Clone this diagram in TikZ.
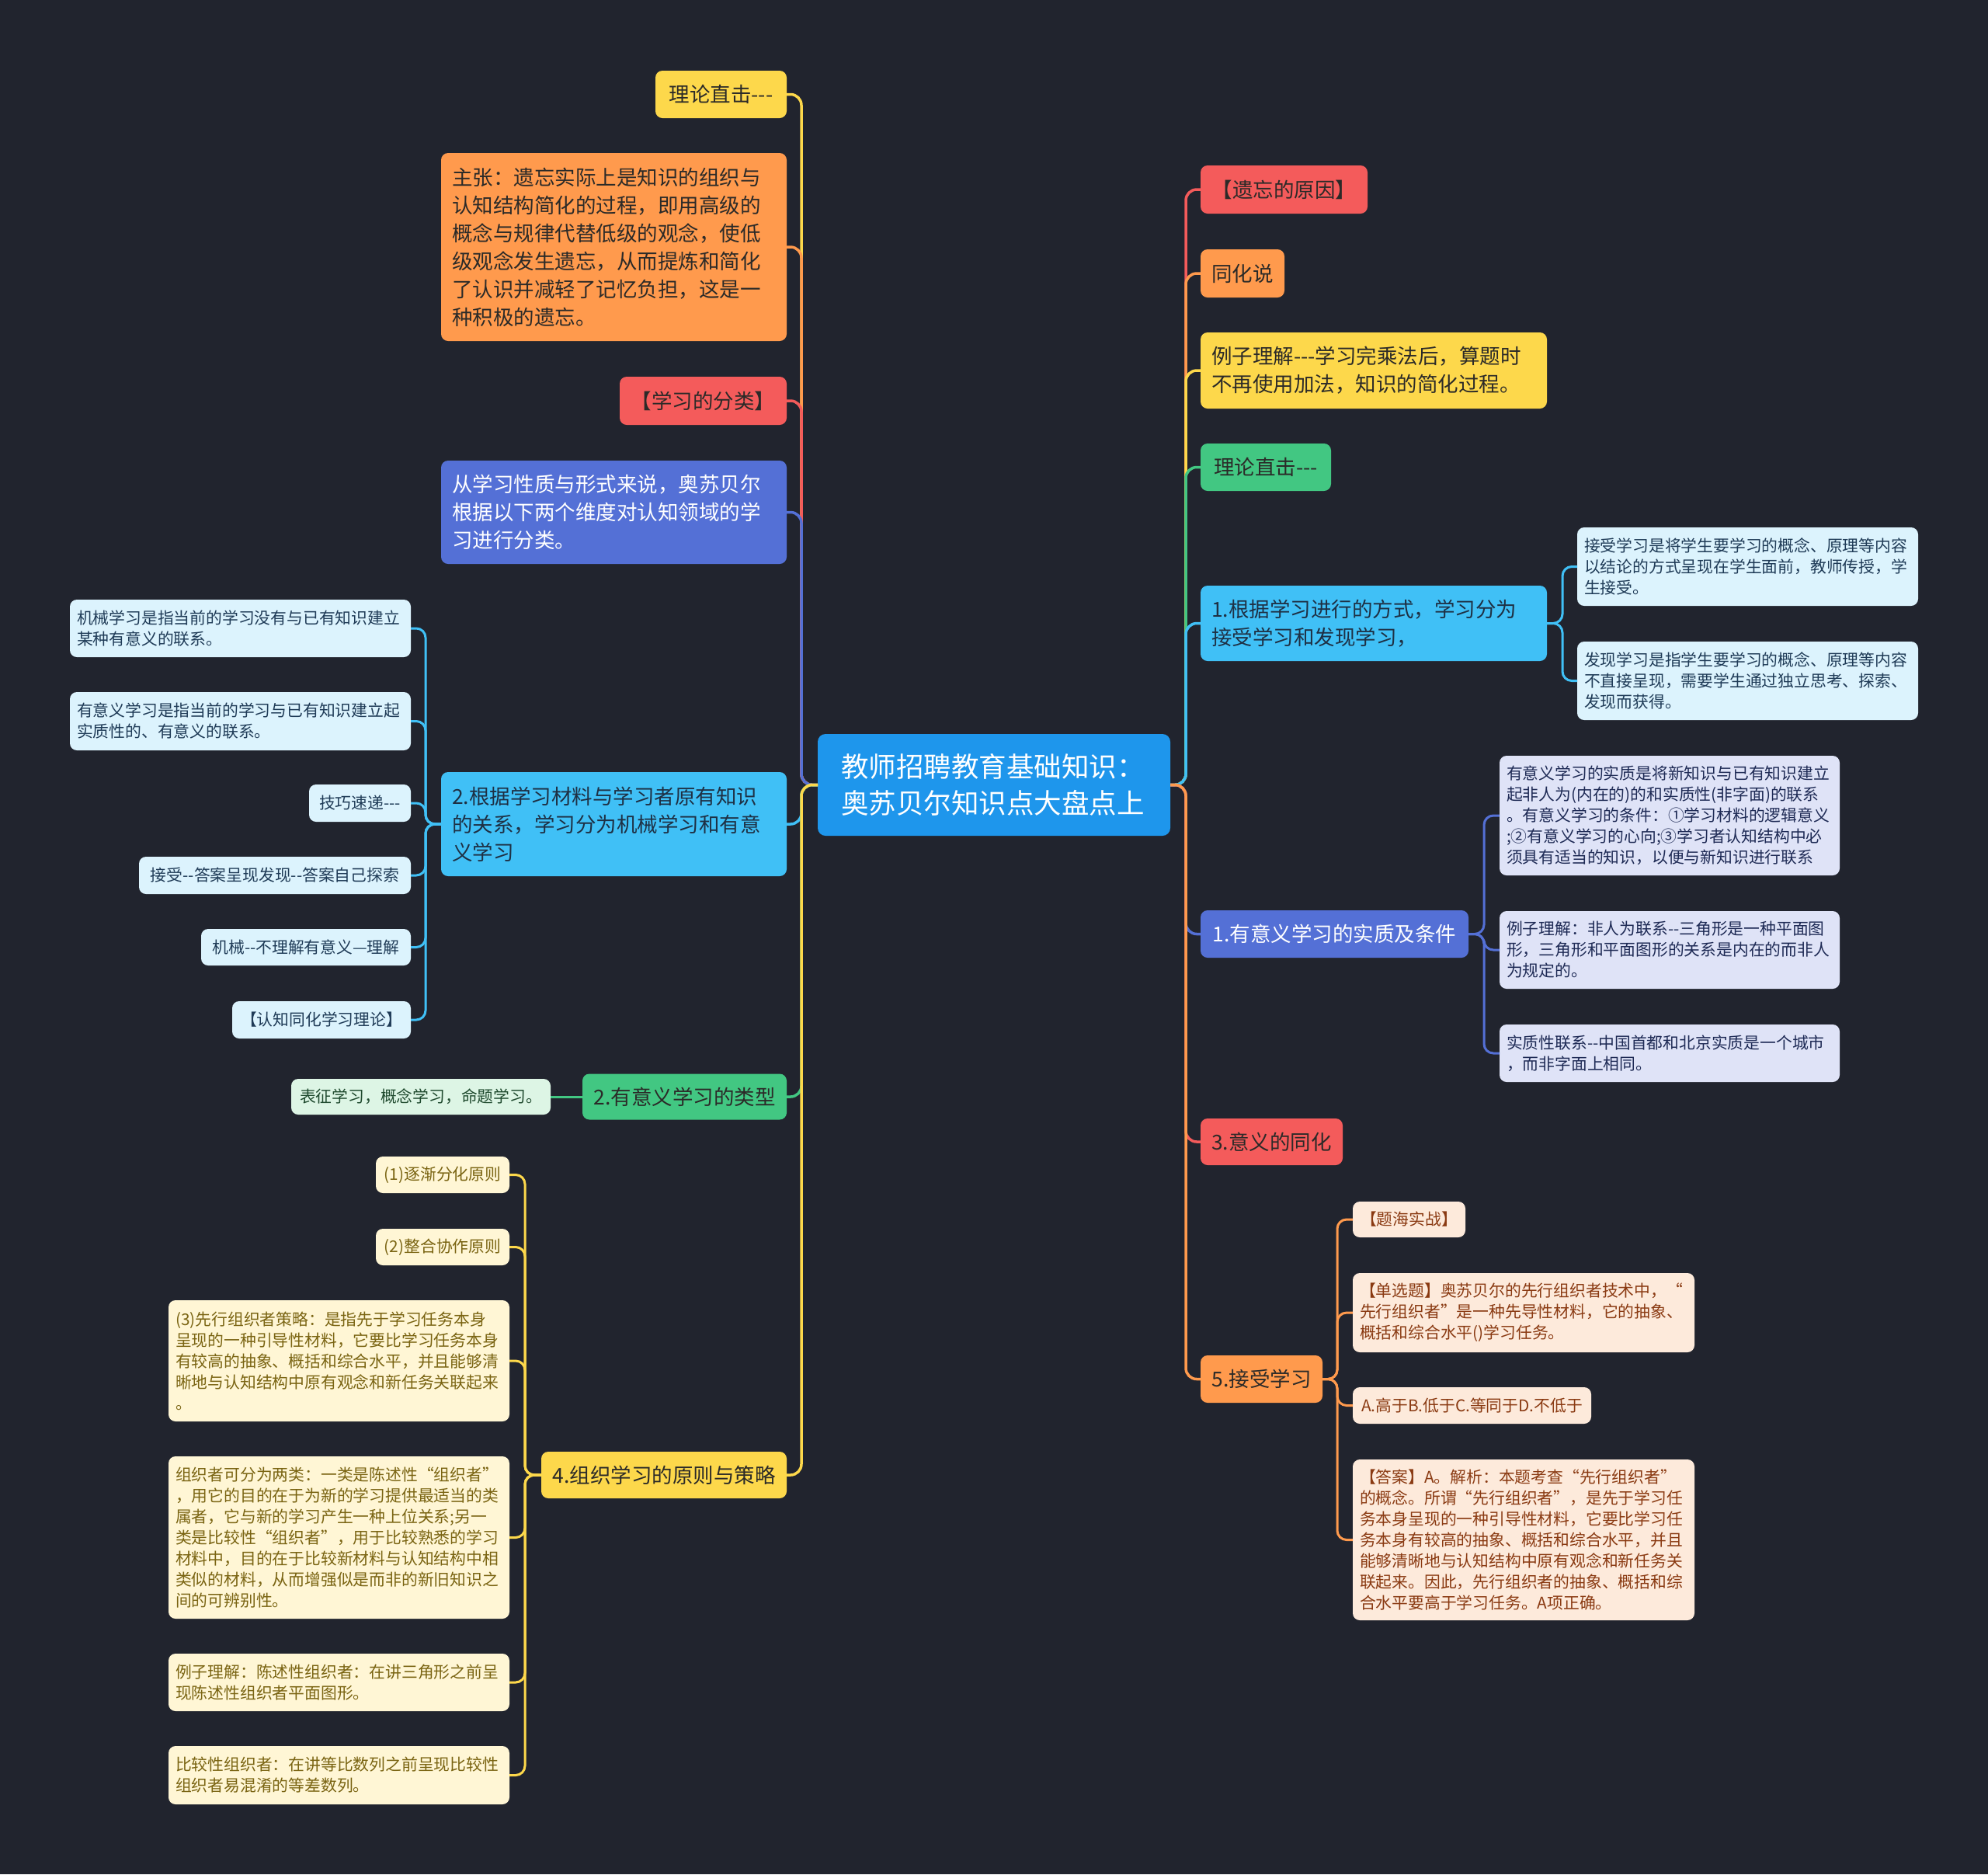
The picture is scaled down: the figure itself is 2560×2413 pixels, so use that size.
\documentclass[tikz,border=0pt]{standalone}
\usepackage{fontspec}
\usepackage{xcolor}
\usepackage{tikz}
\usetikzlibrary{positioning}
\newfontfamily\zhfont{Noto Sans CJK SC}

\definecolor{cBg}{HTML}{21242E}
\definecolor{cRoot}{HTML}{1E96EC}
\definecolor{cYellow}{HTML}{FDD84B}
\definecolor{cOrange}{HTML}{FF9A4D}
\definecolor{cRed}{HTML}{F45B5B}
\definecolor{cIndigo}{HTML}{5470D6}
\definecolor{cSky}{HTML}{40C0F6}
\definecolor{cGreen}{HTML}{42C782}
\definecolor{cInk}{HTML}{2B2A28}
\definecolor{cSkyInk}{HTML}{1E3044}
\definecolor{cSkyLeaf}{HTML}{DCF3FD}
\definecolor{cSkyLeafInk}{HTML}{1F3B57}
\definecolor{cGreenLeaf}{HTML}{DDF5E5}
\definecolor{cGreenLeafInk}{HTML}{1F4A2E}
\definecolor{cCream}{HTML}{FFF6D5}
\definecolor{cCreamInk}{HTML}{7A6412}
\definecolor{cLavender}{HTML}{DFE3F7}
\definecolor{cLavenderInk}{HTML}{1E2A55}
\definecolor{cPeach}{HTML}{FDEADB}
\definecolor{cPeachInk}{HTML}{8A3A12}

\begin{document}
\begin{tikzpicture}[
    x=1pt, y=-1pt,
    root/.style={fill=cRoot, text=white, rounded corners=10pt, outer sep=0pt,
                 font=\zhfont\fontsize{35.5}{47}\selectfont, inner xsep=30pt, inner ysep=6pt,
                 align=left},
    topic/.style={rounded corners=9pt, outer sep=0pt, text=cInk, align=left,
                  font=\zhfont\fontsize{26.5}{36}\selectfont, inner xsep=14pt, inner ysep=6pt},
    leaf/.style={rounded corners=9pt, outer sep=0pt, align=left,
                 font=\zhfont\fontsize{20.8}{27}\selectfont, inner xsep=9pt, inner ysep=5pt},
    skyleaf/.style={leaf, fill=cSkyLeaf, text=cSkyLeafInk},
    greenleaf/.style={leaf, fill=cGreenLeaf, text=cGreenLeafInk},
    creamleaf/.style={leaf, fill=cCream, text=cCreamInk},
    lavleaf/.style={leaf, fill=cLavender, text=cLavenderInk},
    peachleaf/.style={leaf, fill=cPeach, text=cPeachInk},
    link/.style={line width=3.5pt, rounded corners=14pt},
    sublink/.style={line width=3pt, rounded corners=12pt},
  ]
  \useasboundingbox (0,0) rectangle (2560,2413);
  \fill[cBg] (0,0) rectangle (2560,2413);

  % Root
  \node[root, text width=394pt, minimum height=131pt] (root) at (1280,1010.5)
    {教师招聘教育基础知识：\\奥苏贝尔知识点大盘点上};

  % Left topics
  \node[topic, fill=cYellow, anchor=east, minimum width=169pt, minimum height=61pt] (ll1) at (1013,121.5) {理论直击---};
  \node[topic, fill=cOrange, anchor=east, text width=417pt, minimum height=242pt] (ll2) at (1013,318)
    {主张：遗忘实际上是知识的组织与\\认知结构简化的过程，即用高级的\\概念与规律代替低级的观念，使低\\级观念发生遗忘，从而提炼和简化\\了认识并减轻了记忆负担，这是一\\种积极的遗忘。};
  \node[topic, fill=cRed, anchor=east, minimum width=215pt, minimum height=62pt] (ll3) at (1013,516) {【学习的分类】};
  \node[topic, fill=cIndigo, text=white, anchor=east, text width=417pt, minimum height=133pt] (ll4) at (1013,659.5)
    {从学习性质与形式来说，奥苏贝尔\\根据以下两个维度对认知领域的学\\习进行分类。};
  \node[topic, fill=cSky, text=cSkyInk, anchor=east, text width=417pt, minimum height=134pt] (ll5) at (1013,1061)
    {2.根据学习材料与学习者原有知识\\的关系，学习分为机械学习和有意\\义学习};
  \node[topic, fill=cGreen, anchor=east, minimum width=263pt, minimum height=59pt] (ll6) at (1013,1412) {2.有意义学习的类型};
  \node[topic, fill=cYellow, anchor=east, minimum width=316pt, minimum height=60pt] (ll7) at (1013,1899) {4.组织学习的原则与策略};

  % Leaves of ll5
  \node[skyleaf, anchor=east, text width=421pt, minimum height=74pt] (a1) at (529,809)
    {机械学习是指当前的学习没有与已有知识建立\\某种有意义的联系。};
  \node[skyleaf, anchor=east, text width=421pt, minimum height=75pt] (a2) at (529,928.5)
    {有意义学习是指当前的学习与已有知识建立起\\实质性的、有意义的联系。};
  \node[skyleaf, anchor=east, minimum width=131pt, minimum height=48pt] (a3) at (529,1034) {技巧速递---};
  \node[skyleaf, anchor=east, minimum width=350pt, minimum height=48pt] (a4) at (529,1127) {接受--答案呈现发现--答案自己探索};
  \node[skyleaf, anchor=east, minimum width=270pt, minimum height=47pt] (a5) at (529,1219.5) {机械--不理解有意义—理解};
  \node[skyleaf, anchor=east, minimum width=230pt, minimum height=48pt] (a6) at (529,1313) {【认知同化学习理论】};

  % Leaf of ll6
  \node[greenleaf, anchor=east, minimum width=334pt, minimum height=46pt] (b1) at (709,1412) {表征学习，概念学习，命题学习。};

  % Leaves of ll7
  \node[creamleaf, anchor=east, minimum width=172pt, minimum height=47pt] (c1) at (656,1512.5) {(1)逐渐分化原则};
  \node[creamleaf, anchor=east, minimum width=172pt, minimum height=47pt] (c2) at (656,1605.5) {(2)整合协作原则};
  \node[creamleaf, anchor=east, text width=421pt, minimum height=156pt] (c3) at (656,1752)
    {(3)先行组织者策略：是指先于学习任务本身\\呈现的一种引导性材料，它要比学习任务本身\\有较高的抽象、概括和综合水平，并且能够清\\晰地与认知结构中原有观念和新任务关联起来\\。};
  \node[creamleaf, anchor=east, text width=421pt, minimum height=209pt] (c4) at (656,1979.5)
    {组织者可分为两类：一类是陈述性“组织者”\\，用它的目的在于为新的学习提供最适当的类\\属者，它与新的学习产生一种上位关系;另一\\类是比较性“组织者”，用于比较熟悉的学习\\材料中，目的在于比较新材料与认知结构中相\\类似的材料，从而增强似是而非的新旧知识之\\间的可辨别性。};
  \node[creamleaf, anchor=east, text width=421pt, minimum height=74pt] (c5) at (656,2166)
    {例子理解：陈述性组织者：在讲三角形之前呈\\现陈述性组织者平面图形。};
  \node[creamleaf, anchor=east, text width=421pt, minimum height=75pt] (c6) at (656,2285.5)
    {比较性组织者：在讲等比数列之前呈现比较性\\组织者易混淆的等差数列。};

  % Right topics
  \node[topic, fill=cRed, anchor=west, minimum width=215pt, minimum height=62pt] (rl1) at (1546,244) {【遗忘的原因】};
  \node[topic, fill=cOrange, anchor=west, minimum width=108pt, minimum height=62pt] (rl2) at (1546,352) {同化说};
  \node[topic, fill=cYellow, anchor=west, text width=418pt, minimum height=98pt] (rl3) at (1546,477)
    {例子理解---学习完乘法后，算题时\\不再使用加法，知识的简化过程。};
  \node[topic, fill=cGreen, anchor=west, minimum width=168pt, minimum height=61pt] (rl4) at (1546,601.5) {理论直击---};
  \node[topic, fill=cSky, text=cSkyInk, anchor=west, text width=418pt, minimum height=97pt] (rl5) at (1546,802.5)
    {1.根据学习进行的方式，学习分为\\接受学习和发现学习，};
  \node[topic, fill=cIndigo, text=white, anchor=west, minimum width=345pt, minimum height=61pt] (rl6) at (1546,1202.5) {1.有意义学习的实质及条件};
  \node[topic, fill=cRed, anchor=west, minimum width=183pt, minimum height=60pt] (rl7) at (1546,1470) {3.意义的同化};
  \node[topic, fill=cOrange, anchor=west, minimum width=157pt, minimum height=61pt] (rl8) at (1546,1775.5) {5.接受学习};

  % Leaves of rl5
  \node[skyleaf, anchor=west, text width=421pt, minimum height=101pt] (d1) at (2031,729.5)
    {接受学习是将学生要学习的概念、原理等内容\\以结论的方式呈现在学生面前，教师传授，学\\生接受。};
  \node[skyleaf, anchor=west, text width=421pt, minimum height=101pt] (d2) at (2031,876.5)
    {发现学习是指学生要学习的概念、原理等内容\\不直接呈现，需要学生通过独立思考、探索、\\发现而获得。};

  % Leaves of rl6
  \node[lavleaf, anchor=west, text width=420pt, minimum height=154pt] (e1) at (1931,1050)
    {有意义学习的实质是将新知识与已有知识建立\\起非人为(内在的)的和实质性(非字面)的联系\\。有意义学习的条件：①学习材料的逻辑意义\\;②有意义学习的心向;③学习者认知结构中必\\须具有适当的知识，以便与新知识进行联系};
  \node[lavleaf, anchor=west, text width=420pt, minimum height=100pt] (e2) at (1931,1223)
    {例子理解：非人为联系--三角形是一种平面图\\形，三角形和平面图形的关系是内在的而非人\\为规定的。};
  \node[lavleaf, anchor=west, text width=420pt, minimum height=74pt] (e3) at (1931,1356)
    {实质性联系--中国首都和北京实质是一个城市\\，而非字面上相同。};

  % Leaves of rl8
  \node[peachleaf, anchor=west, minimum width=145pt, minimum height=46pt] (f1) at (1742,1570) {【题海实战】};
  \node[peachleaf, anchor=west, text width=422pt, minimum height=102pt] (f2) at (1742,1690)
    {【单选题】奥苏贝尔的先行组织者技术中，“\\先行组织者”是一种先导性材料，它的抽象、\\概括和综合水平()学习任务。};
  \node[peachleaf, anchor=west, minimum width=307pt, minimum height=47pt] (f3) at (1742,1809.5) {A.高于B.低于C.等同于D.不低于};
  \node[peachleaf, anchor=west, text width=422pt, minimum height=207pt] (f4) at (1742,1982.5)
    {【答案】A。解析：本题考查“先行组织者”\\的概念。所谓“先行组织者”，是先于学习任\\务本身呈现的一种引导性材料，它要比学习任\\务本身有较高的抽象、概括和综合水平，并且\\能够清晰地与认知结构中原有观念和新任务关\\联起来。因此，先行组织者的抽象、概括和综\\合水平要高于学习任务。A项正确。};

  % Root to left topics
  \draw[link, cYellow] (root.west) -- ++(-21,0) |- (ll1.east);
  \draw[link, cOrange] (root.west) -- ++(-21,0) |- (ll2.east);
  \draw[link, cRed]    (root.west) -- ++(-21,0) |- (ll3.east);
  \draw[link, cIndigo] (root.west) -- ++(-21,0) |- (ll4.east);
  \draw[link, cSky]    (root.west) -- ++(-21,0) |- (ll5.east);
  \draw[link, cGreen]  (root.west) -- ++(-21,0) |- (ll6.east);
  \draw[link, cYellow] (root.west) -- ++(-21,0) |- (ll7.east);

  % Root to right topics
  \draw[link, cRed]    (root.east) -- ++(20,0) |- (rl1.west);
  \draw[link, cOrange] (root.east) -- ++(20,0) |- (rl2.west);
  \draw[link, cYellow] (root.east) -- ++(20,0) |- (rl3.west);
  \draw[link, cGreen]  (root.east) -- ++(20,0) |- (rl4.west);
  \draw[link, cSky]    (root.east) -- ++(20,0) |- (rl5.west);
  \draw[link, cIndigo] (root.east) -- ++(20,0) |- (rl6.west);
  \draw[link, cRed]    (root.east) -- ++(20,0) |- (rl7.west);
  \draw[link, cOrange] (root.east) -- ++(20,0) |- (rl8.west);

  % Topics to leaves
  \foreach \n in {a1,a2,a3,a4,a5,a6}
    \draw[sublink, cSky] (ll5.west) -- ++(-20,0) |- (\n.east);
  \draw[sublink, cGreen] (ll6.west) -- (b1.east);
  \foreach \n in {c1,c2,c3,c4,c5,c6}
    \draw[sublink, cYellow] (ll7.west) -- ++(-21,0) |- (\n.east);
  \foreach \n in {d1,d2}
    \draw[sublink, cSky] (rl5.east) -- ++(20,0) |- (\n.west);
  \foreach \n in {e1,e2,e3}
    \draw[sublink, cIndigo] (rl6.east) -- ++(20,0) |- (\n.west);
  \foreach \n in {f1,f2,f3,f4}
    \draw[sublink, cOrange] (rl8.east) -- ++(19,0) |- (\n.west);
\end{tikzpicture}
\end{document}
